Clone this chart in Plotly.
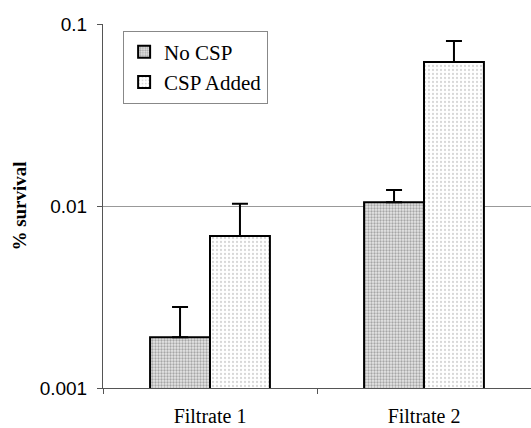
import plotly.graph_objects as go

categories = ["Filtrate 1", "Filtrate 2"]
no_csp = [0.0019, 0.0105]
no_csp_err = [0.00089, 0.00174]
csp_added = [0.00684, 0.0618]
csp_added_err = [0.00346, 0.0189]
y_tickvals = [0.001, 0.01, 0.1]
y_ticktext = ["0.001", "0.01", "0.1"]

serif = "Times New Roman, Liberation Serif, serif"
sans = "Arial, Liberation Sans, sans-serif"

fig = go.Figure()
fig.add_trace(go.Bar(
    name="No CSP", x=categories, y=no_csp,
    marker=dict(color="white", line=dict(color="black", width=2),
                pattern=dict(shape=".", fgcolor="#666666", bgcolor="#e6e6e6", size=3, solidity=0.45)),
    error_y=dict(type="data", symmetric=False, array=no_csp_err, arrayminus=[0, 0],
                 color="black", thickness=2, width=8),
))
fig.add_trace(go.Bar(
    name="CSP Added", x=categories, y=csp_added,
    marker=dict(color="white", line=dict(color="black", width=2),
                pattern=dict(shape=".", fgcolor="#b0b0b0", bgcolor="white", size=4, solidity=0.25)),
    error_y=dict(type="data", symmetric=False, array=csp_added_err, arrayminus=[0, 0],
                 color="black", thickness=2, width=8),
))

fig.update_layout(
    width=531, height=428,
    margin=dict(l=103, r=0, t=24, b=40),
    plot_bgcolor="white", paper_bgcolor="white",
    barmode="group", bargap=0.44, bargroupgap=0,
    showlegend=True,
    legend=dict(x=0.047, y=0.982, xanchor="left", yanchor="top",
                bordercolor="#888888", borderwidth=1, bgcolor="white",
                font=dict(family=serif, size=21, color="black"),
                tracegroupgap=4),
)
fig.update_yaxes(
    type="log", range=[-3, -1],
    tickvals=y_tickvals, ticktext=y_ticktext,
    tickfont=dict(family=sans, size=19, color="black"),
    showgrid=True, gridcolor="#999999", gridwidth=1,
    showline=True, linecolor="#555555", linewidth=1,
    ticks="outside", ticklen=5, tickcolor="#555555",
    ticklabelstandoff=6,
    title=dict(text="<b>% survival</b>", font=dict(family=serif, size=19, color="black"), standoff=8),
)
fig.update_xaxes(
    tickfont=dict(family=serif, size=20, color="black"),
    showline=True, linecolor="#555555", linewidth=1,
    tickson="boundaries", ticks="outside", ticklen=5, tickcolor="#555555",
    ticklabelstandoff=10,
    showgrid=False,
)

fig.write_html("out.html")
